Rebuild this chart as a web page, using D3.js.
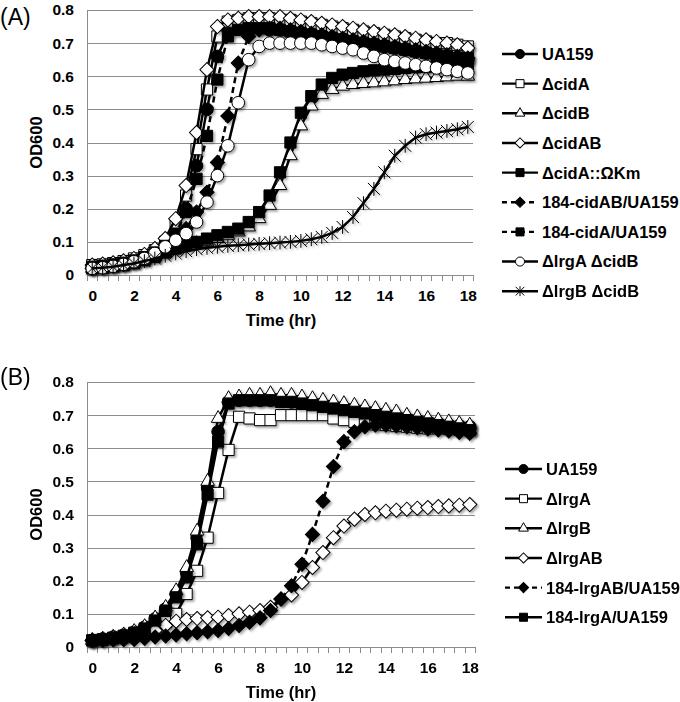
<!DOCTYPE html>
<html><head><meta charset="utf-8">
<script src="https://cdn.jsdelivr.net/npm/d3@7"></script>
<style>
body{margin:0;background:#fff}
svg{display:block;font-family:Arial,"Liberation Sans",sans-serif}
</style>
</head><body>
<svg id="chart" width="680" height="702"></svg>
<script>
// ---------- data ----------
const timeHours = [0,0.5,1,1.5,2,2.5,3,3.5,4,4.5,5,5.5,6,6.5,7,7.5,8,8.5,9,9.5,10,10.5,11,11.5,12,12.5,13,13.5,14,14.5,15,15.5,16,16.5,17,17.5,18];
const xTickLabels = [0,2,4,6,8,10,12,14,16,18];
const yTickValues = [0,0.1,0.2,0.3,0.4,0.5,0.6,0.7,0.8];

const namesA = ["UA159","\u0394cidA","\u0394cidB","\u0394cidAB","\u0394cidA::\u03A9Km","184-cidAB/UA159","184-cidA/UA159","\u0394lrgA \u0394cidB","\u0394lrgB \u0394cidB"];
const A_UA159   = [0.025,0.028,0.032,0.038,0.045,0.055,0.07,0.09,0.13,0.20,0.33,0.50,0.66,0.73,0.745,0.745,0.745,0.74,0.74,0.735,0.73,0.725,0.72,0.715,0.71,0.705,0.70,0.695,0.69,0.685,0.68,0.675,0.67,0.665,0.66,0.655,0.65];
const A_cidA    = [0.03,0.032,0.036,0.042,0.05,0.06,0.075,0.10,0.15,0.24,0.38,0.56,0.72,0.765,0.77,0.775,0.775,0.775,0.77,0.77,0.765,0.76,0.755,0.75,0.745,0.74,0.735,0.73,0.725,0.72,0.715,0.71,0.705,0.70,0.70,0.695,0.69];
const A_cidB    = [0.02,0.022,0.026,0.03,0.036,0.045,0.055,0.068,0.078,0.088,0.095,0.10,0.11,0.12,0.13,0.145,0.17,0.21,0.27,0.36,0.45,0.51,0.545,0.56,0.57,0.575,0.578,0.58,0.583,0.586,0.59,0.592,0.594,0.596,0.598,0.60,0.60];
const A_cidAB   = [0.03,0.033,0.037,0.043,0.05,0.062,0.08,0.11,0.17,0.27,0.43,0.62,0.75,0.77,0.775,0.78,0.78,0.78,0.78,0.775,0.77,0.765,0.76,0.755,0.75,0.745,0.74,0.735,0.73,0.725,0.72,0.715,0.71,0.705,0.70,0.695,0.685];
const A_cidAKm  = [0.02,0.022,0.026,0.03,0.036,0.045,0.055,0.068,0.08,0.09,0.10,0.11,0.12,0.13,0.14,0.16,0.19,0.24,0.31,0.40,0.49,0.54,0.575,0.595,0.605,0.61,0.615,0.618,0.62,0.622,0.625,0.627,0.628,0.63,0.63,0.63,0.63];
const A_184cidAB= [0.02,0.023,0.027,0.032,0.04,0.05,0.062,0.08,0.105,0.14,0.19,0.25,0.34,0.48,0.64,0.72,0.74,0.745,0.745,0.74,0.735,0.73,0.725,0.72,0.715,0.71,0.705,0.70,0.695,0.69,0.685,0.68,0.675,0.67,0.665,0.66,0.655];
const A_184cidA = [0.025,0.028,0.032,0.037,0.044,0.054,0.068,0.088,0.125,0.19,0.29,0.42,0.59,0.72,0.74,0.745,0.745,0.745,0.74,0.735,0.73,0.725,0.72,0.715,0.71,0.705,0.70,0.695,0.69,0.685,0.68,0.675,0.67,0.665,0.66,0.655,0.655];
const A_lrgAcidB= [0.02,0.022,0.026,0.032,0.04,0.05,0.065,0.085,0.105,0.125,0.16,0.22,0.30,0.39,0.52,0.65,0.69,0.70,0.70,0.70,0.70,0.70,0.695,0.69,0.685,0.68,0.67,0.66,0.65,0.645,0.64,0.635,0.63,0.625,0.62,0.615,0.61];
const A_lrgBcidB= [0.02,0.022,0.025,0.03,0.035,0.042,0.05,0.058,0.065,0.072,0.078,0.082,0.085,0.088,0.09,0.092,0.094,0.096,0.098,0.10,0.103,0.108,0.115,0.127,0.145,0.175,0.217,0.26,0.31,0.36,0.39,0.415,0.425,0.43,0.435,0.44,0.447];

const namesB = ["UA159","\u0394lrgA","\u0394lrgB","\u0394lrgAB","184-lrgAB/UA159","184-lrgA/UA159"];
const B_UA159   = [0.02,0.024,0.03,0.036,0.045,0.06,0.085,0.115,0.16,0.225,0.33,0.48,0.65,0.74,0.745,0.745,0.745,0.745,0.745,0.74,0.74,0.735,0.73,0.725,0.72,0.715,0.71,0.705,0.70,0.695,0.69,0.685,0.68,0.675,0.67,0.668,0.665];
const B_lrgA    = [0.02,0.023,0.027,0.032,0.04,0.05,0.06,0.075,0.10,0.16,0.23,0.33,0.465,0.595,0.695,0.69,0.685,0.685,0.70,0.70,0.70,0.70,0.70,0.69,0.685,0.68,0.675,0.672,0.67,0.667,0.665,0.662,0.66,0.66,0.658,0.656,0.655];
const B_lrgB    = [0.02,0.024,0.03,0.037,0.047,0.062,0.088,0.12,0.17,0.24,0.35,0.50,0.69,0.75,0.755,0.76,0.76,0.765,0.76,0.76,0.755,0.75,0.745,0.74,0.735,0.73,0.725,0.72,0.715,0.71,0.70,0.695,0.69,0.685,0.68,0.675,0.67];
const B_lrgAB   = [0.02,0.024,0.028,0.033,0.04,0.045,0.05,0.065,0.078,0.083,0.086,0.088,0.09,0.095,0.10,0.105,0.11,0.12,0.145,0.157,0.195,0.24,0.285,0.33,0.365,0.386,0.40,0.405,0.41,0.413,0.416,0.419,0.421,0.424,0.426,0.428,0.43];
const B_184lrgAB= [0.02,0.02,0.021,0.022,0.023,0.026,0.03,0.033,0.036,0.04,0.043,0.046,0.05,0.056,0.065,0.075,0.088,0.11,0.145,0.185,0.25,0.34,0.44,0.545,0.62,0.65,0.665,0.67,0.67,0.668,0.665,0.662,0.658,0.655,0.652,0.648,0.645];
const B_184lrgA = [0.02,0.023,0.028,0.034,0.043,0.056,0.08,0.11,0.15,0.21,0.31,0.46,0.62,0.735,0.745,0.745,0.745,0.745,0.74,0.74,0.735,0.73,0.725,0.72,0.715,0.71,0.705,0.70,0.695,0.69,0.685,0.68,0.675,0.67,0.665,0.66,0.655];

// ---------- styles ----------
const stylesA = [
  {sym:"circle",fill:"#000",dash:false},
  {sym:"square",fill:"#fff",dash:false},
  {sym:"triangle",fill:"#fff",dash:false},
  {sym:"diamond",fill:"#fff",dash:false},
  {sym:"square",fill:"#000",dash:false},
  {sym:"diamond",fill:"#000",dash:true},
  {sym:"square",fill:"#000",dash:true},
  {sym:"circle",fill:"#fff",dash:false},
  {sym:"star",fill:"none",dash:false}
];
const stylesB = [
  {sym:"circle",fill:"#000",dash:false},
  {sym:"square",fill:"#fff",dash:false},
  {sym:"triangle",fill:"#fff",dash:false},
  {sym:"diamond",fill:"#fff",dash:false},
  {sym:"diamond",fill:"#000",dash:true},
  {sym:"square",fill:"#000",dash:false}
];

const svg = d3.select("#chart");
const defs = svg.append("defs");
const f = defs.append("filter").attr("id","shadow").attr("x","-50%").attr("y","-50%").attr("width","200%").attr("height","200%");
f.append("feDropShadow").attr("dx",1.8).attr("dy",1.8).attr("stdDeviation",1.2).attr("flood-color","#000").attr("flood-opacity",0.35);

function markerPath(sym, s){
  if(sym==="circle") return {d:d3.symbol(d3.symbolCircle, 125*s*s)(), rot:0};
  if(sym==="square") return {d:d3.symbol(d3.symbolSquare, 125*s*s)(), rot:0};
  if(sym==="diamond") return {d:d3.symbol(d3.symbolSquare, 100*s*s)(), rot:45};
  if(sym==="triangle") return {d:d3.symbol(d3.symbolTriangle, 80*s*s)(), rot:0};
  const r = 6*s;
  return {d:`M${-r},${-r}L${r},${r}M${-r},${r}L${r},${-r}M0,${-r*1.15}L0,${r*1.15}`, rot:0};
}

function drawMarker(g, st, cx, cy, s){
  const m = markerPath(st.sym, s);
  const p = g.append("path").attr("d", m.d)
    .attr("transform", `translate(${cx},${cy}) rotate(${m.rot})`);
  if(st.sym==="star"){
    p.attr("fill","none").attr("stroke","#000").attr("stroke-width",1);
  } else {
    p.attr("fill", st.fill).attr("stroke","#000").attr("stroke-width",1);
  }
}

function drawPanel(cfg){
  const g = svg.append("g");
  const x = d3.scaleBand().domain(timeHours).range([cfg.left, cfg.right]).paddingInner(0).paddingOuter(0);
  const bw = x.bandwidth();
  const cx = t => x(t) + bw/2;
  const xp = d3.scalePoint().domain(timeHours).range([cx(timeHours[0]), cx(timeHours[timeHours.length-1])]);
  const y = d3.scaleLinear().domain([0,0.8]).range([cfg.bottom, cfg.top]);

  g.append("g").selectAll("line").data(yTickValues.filter(v=>v>0)).join("line")
    .attr("x1", cfg.left).attr("x2", cfg.right)
    .attr("y1", d=>Math.round(y(d))+0.5).attr("y2", d=>Math.round(y(d))+0.5)
    .attr("stroke","#8c8c8c").attr("stroke-width",1);
  g.append("line").attr("x1",cfg.left+0.5).attr("x2",cfg.left+0.5).attr("y1",cfg.top).attr("y2",cfg.bottom)
    .attr("stroke","#8c8c8c");
  g.append("line").attr("x1",cfg.left).attr("x2",cfg.right).attr("y1",Math.round(y(0))+0.5).attr("y2",Math.round(y(0))+0.5)
    .attr("stroke","#8c8c8c");
  const edges = timeHours.map(t=>x(t)).concat([cfg.right]);
  g.append("g").selectAll("line").data(edges).join("line")
    .attr("x1",d=>Math.round(d)+0.5).attr("x2",d=>Math.round(d)+0.5)
    .attr("y1",y(0)).attr("y2",y(0)+6).attr("stroke","#8c8c8c");

  const ya = g.append("g").attr("transform",`translate(${cfg.left},0)`)
    .call(d3.axisLeft(y).tickValues(yTickValues).tickSize(0).tickPadding(13)
      .tickFormat(d=> d===0 ? "0" : d3.format(".1f")(d)));
  ya.select(".domain").remove();
  ya.selectAll("text").attr("font-size",15.5).attr("font-weight","bold").attr("fill","#000")
    .attr("font-family","Arial, 'Liberation Sans', sans-serif");

  const xa = g.append("g").attr("transform",`translate(0,${y(0)})`)
    .call(d3.axisBottom(xp).tickValues(xTickLabels).tickSize(0).tickPadding(15));
  xa.select(".domain").remove();
  xa.selectAll("text").attr("font-size",15.5).attr("font-weight","bold").attr("fill","#000")
    .attr("font-family","Arial, 'Liberation Sans', sans-serif");

  g.append("text").attr("transform",`translate(42,${(cfg.top+cfg.bottom)/2}) rotate(-90)`)
    .attr("text-anchor","middle").attr("font-size",16.5).attr("font-weight","bold").text("OD600");
  g.append("text").attr("x",281).attr("y",cfg.bottom+51).attr("text-anchor","middle")
    .attr("font-size",16.5).attr("font-weight","bold").text("Time (hr)");
  g.append("text").attr("x",0).attr("y",cfg.labelY).attr("font-size",23).text(cfg.label);

  cfg.series.forEach((vals,i)=>{
    const st = cfg.styles[i];
    const line = d3.line().x((d,j)=>cx(timeHours[j])).y(d=>y(d));
    const sg = g.append("g");
    sg.append("path").datum(vals).attr("d",line).attr("fill","none")
      .attr("stroke","#000").attr("stroke-width",2.5)
      .attr("stroke-dasharray", st.dash ? "6,4" : null);
    const mg = sg.append("g").attr("filter","url(#shadow)");
    vals.forEach((v,j)=> drawMarker(mg, st, cx(timeHours[j]), y(v), 1));
  });

  const lg = g.append("g");
  cfg.names.forEach((name,i)=>{
    const st = cfg.styles[i];
    const ly = cfg.legY + i*29.65;
    lg.append("line").attr("x1",cfg.legX1).attr("x2",cfg.legX2).attr("y1",ly).attr("y2",ly)
      .attr("stroke","#000").attr("stroke-width",2.4)
      .attr("stroke-dasharray", st.dash ? "5,4" : null);
    drawMarker(lg, st, (cfg.legX1+cfg.legX2)/2, ly, 0.72);
    lg.append("text").attr("x",cfg.legX2+4).attr("y",ly).attr("dy","0.36em")
      .attr("font-size",16.5).attr("font-weight","bold").text(name);
  });
}

drawPanel({
  left:87, right:473, top:10, bottom:275, label:"(A)", labelY:25,
  series:[A_UA159,A_cidA,A_cidB,A_cidAB,A_cidAKm,A_184cidAB,A_184cidA,A_lrgAcidB,A_lrgBcidB],
  styles:stylesA, names:namesA, legX1:502, legX2:538, legY:54
});
drawPanel({
  left:87, right:475, top:382, bottom:647, label:"(B)", labelY:385,
  series:[B_UA159,B_lrgA,B_lrgB,B_lrgAB,B_184lrgAB,B_184lrgA],
  styles:stylesB, names:namesB, legX1:505, legX2:542, legY:469
});
</script>
</body></html>
